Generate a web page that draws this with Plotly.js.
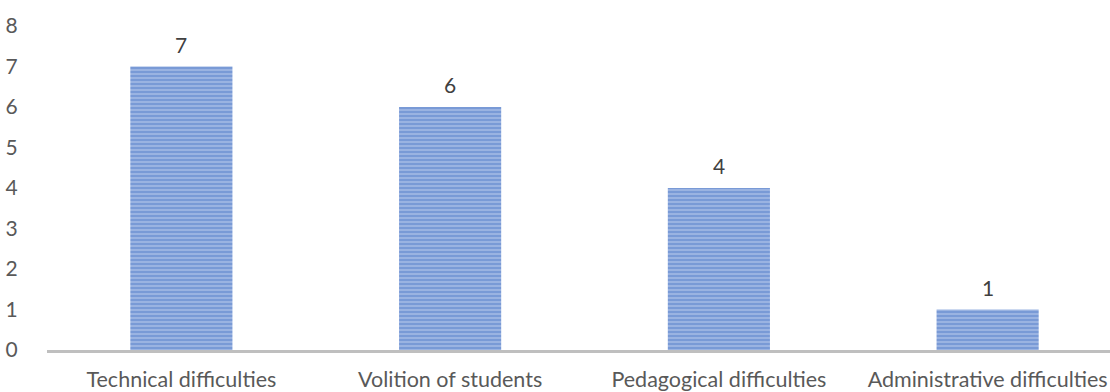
<!DOCTYPE html>
<html>
<head>
<meta charset="utf-8">
<script src="https://cdn.plot.ly/plotly-3.0.1.min.js"></script>
<style>
  html, body { margin: 0; padding: 0; overflow: hidden; background: #fff; }
  #chart { width: 1122px; height: 392px; }
</style>
</head>
<body>
<div id="chart"></div>
<script>
// Reported difficulties by type
const categories = [
  "Technical difficulties",
  "Volition of students",
  "Pedagogical difficulties",
  "Administrative difficulties"
];
const counts = [7, 6, 4, 1];
const yTicks = [0, 1, 2, 3, 4, 5, 6, 7, 8];

const fontFamily = "Lato, 'Open Sans', sans-serif";

const bars = {
  type: "bar",
  x: categories,
  y: counts,
  marker: {
    color: "#afc3e9",
    line: { width: 0 },
    pattern: {
      shape: "-",
      fgcolor: "#4472c4",
      bgcolor: "#afc3e9",
      size: 4,
      solidity: 0.7,
      fillmode: "overlay"
    }
  },
  hoverinfo: "x+y"
};

// value labels above each bar
const valueLabels = categories.map((c, i) => ({
  x: c,
  y: counts[i],
  text: String(counts[i]),
  showarrow: false,
  xref: "x",
  yref: "y",
  yanchor: "bottom",
  yshift: 8,
  font: { family: fontFamily, size: 21, color: "#404040" }
}));

const layout = {
  width: 1122,
  height: 392,
  margin: { l: 47, r: 0, t: 26, b: 42 },
  paper_bgcolor: "#ffffff",
  plot_bgcolor: "#ffffff",
  showlegend: false,
  bargap: 0.62,
  xaxis: {
    type: "category",
    showline: true,
    linecolor: "#bfbfbf",
    linewidth: 3,
    showgrid: false,
    zeroline: false,
    ticks: "outside",
    ticklen: 8,
    tickcolor: "rgba(0,0,0,0)",
    tickfont: { family: fontFamily, size: 21.5, color: "#595959" },
    fixedrange: true
  },
  yaxis: {
    range: [0, 8],
    tickvals: yTicks,
    ticktext: yTicks.map(String),
    showline: false,
    showgrid: false,
    zeroline: false,
    ticks: "outside",
    ticklen: 24,
    tickcolor: "rgba(0,0,0,0)",
    tickfont: { family: fontFamily, size: 21, color: "#595959" },
    fixedrange: true
  },
  annotations: valueLabels
};

Plotly.newPlot("chart", [bars], layout, { displayModeBar: false, staticPlot: true });
</script>
</body>
</html>
